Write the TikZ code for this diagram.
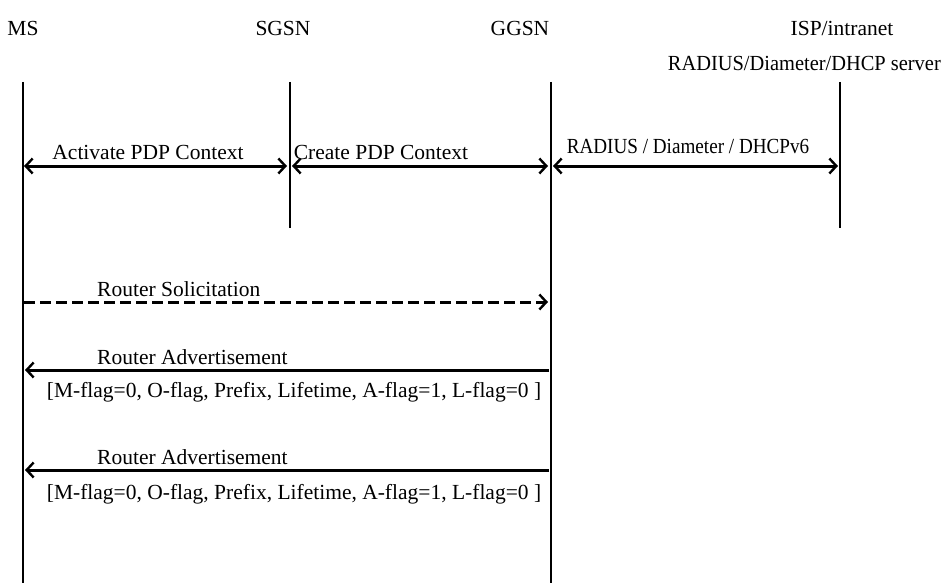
\documentclass[tikz,border=0pt]{standalone}
\usepackage{fontspec}
\setmainfont{Liberation Serif}
\usetikzlibrary{arrows.meta}
\begin{document}
\begin{tikzpicture}[x=1pt,y=-1pt,
  lbl/.style={inner sep=0pt,font=\fontsize{21.5}{25}\selectfont},
  life/.style={line width=2pt},
  msg/.style={line width=3pt,-{Straight Barb[length=7pt,width=15pt,line width=2.4pt]}},
  bimsg/.style={line width=3pt,{Straight Barb[length=7pt,width=15pt,line width=2.4pt]}-{Straight Barb[length=7pt,width=15pt,line width=2.4pt]}},
  dmsg/.style={msg,dash pattern=on 11pt off 5pt}]
\useasboundingbox (0,0) rectangle (942,583);
% headers
\node[lbl] (hms) at (23,28) {MS};
\node[lbl] (hsgsn) at (283,28) {SGSN};
\node[lbl] (hggsn) at (520,28) {GGSN};
\node[lbl] (hisp) at (842,28) {ISP/intranet};
\node[lbl,anchor=east] (hsrv) at (941,63) {\scalebox{0.95}[1]{RADIUS/Diameter/DHCP server}};
% lifelines
\coordinate (ms1) at (23,82);  \coordinate (ms2) at (23,583);
\coordinate (sg1) at (290,82); \coordinate (sg2) at (290,228);
\coordinate (gg1) at (551,82); \coordinate (gg2) at (551,583);
\coordinate (is1) at (840,82); \coordinate (is2) at (840,228);
\draw[life] (ms1) -- (ms2);
\draw[life] (sg1) -- (sg2);
\draw[life] (gg1) -- (gg2);
\draw[life] (is1) -- (is2);
% PDP context
\coordinate (a1) at (24,166); \coordinate (a2r) at (287,166);
\coordinate (a2) at (292,166); \coordinate (a3r) at (548,166);
\coordinate (a3) at (553,166); \coordinate (a4) at (838,166);
\draw[bimsg] (a1) -- (a2r);
\draw[bimsg] (a2) -- (a3r);
\draw[bimsg] (a3) -- (a4);
\node[lbl] (l1) at (148,152) {Activate PDP Context};
\node[lbl] (l2) at (381,152) {Create PDP Context};
\node[lbl] (l3) at (688,146) {\scalebox{0.89}[1]{RADIUS / Diameter / DHCPv6}};
% Router solicitation
\coordinate (rs1) at (24,302); \coordinate (rs2) at (548,302);
\draw[dmsg] (rs1) -- (rs2);
\node[lbl,anchor=west] (l4) at (97,289) {Router Solicitation};
% RA 1
\coordinate (ra1) at (549,370); \coordinate (ra2) at (25,370);
\draw[msg] (ra1) -- (ra2);
\node[lbl,anchor=west] (l5) at (97,357) {Router Advertisement};
\node[lbl] (l6) at (294,392) {[M-flag=0, O-flag, Prefix, Lifetime, A-flag=1, L-flag=0 ]};
% RA 2
\coordinate (rb1) at (549,470); \coordinate (rb2) at (25,470);
\draw[msg] (rb1) -- (rb2);
\node[lbl,anchor=west] (l7) at (97,457) {Router Advertisement};
\node[lbl] (l8) at (294,494) {[M-flag=0, O-flag, Prefix, Lifetime, A-flag=1, L-flag=0 ]};
\end{tikzpicture}
\end{document}
